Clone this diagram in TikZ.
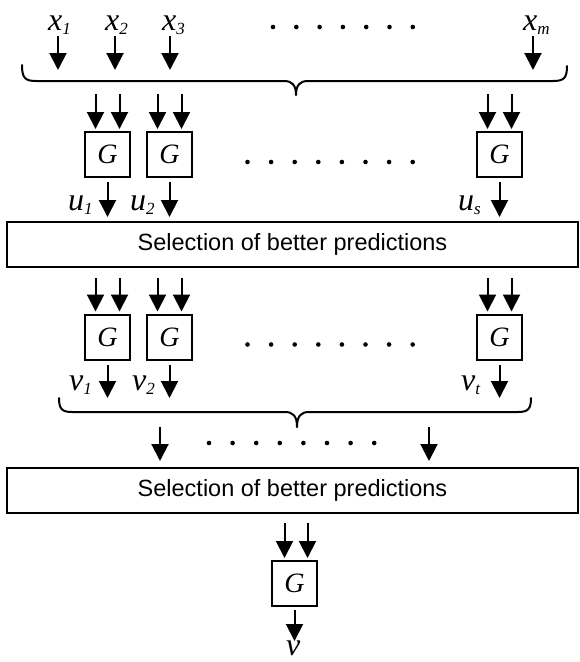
\documentclass[tikz,border=0pt]{standalone}
\usepackage{fontspec}
\setmainfont{Liberation Serif}
\newfontfamily\arialf{Liberation Sans}
\usetikzlibrary{arrows.meta,calc}
\newcommand\mylab[2]{{\fontsize{32}{32}\selectfont\itshape #1}{\fontsize{17}{17}\selectfont\itshape\raisebox{-4pt}{#2}}}
\begin{document}
\begin{tikzpicture}[x=1pt,y=-1pt,
  arr/.style={line width=2pt,-{Triangle[length=17pt,width=17pt]}},
  gbox/.style={draw,line width=2pt,minimum width=45pt,minimum height=45pt,inner sep=0pt,font=\fontsize{28}{28}\selectfont\itshape},
  selbox/.style={draw,line width=2pt,minimum width=571pt,minimum height=45pt,inner sep=0pt,font=\arialf\fontsize{23.5}{23.5}\selectfont},
  lab/.style={anchor=base west,inner sep=0pt},
  bracepath/.style={line width=2pt,line join=round,line cap=round},
  dot/.style={fill=black}]
\useasboundingbox (0,0) rectangle (579,662);

% input labels
\node[lab] (x1) at (48,30) {\mylab{x}{1}};
\node[lab] (x2) at (105,30) {\mylab{x}{2}};
\node[lab] (x3) at (162,30) {\mylab{x}{3}};
\node[lab] (xm) at (523,30) {\mylab{x}{m}};
\foreach \i in {0,...,6} \fill[dot] (273+23.3*\i,27) circle (2.3pt);

\coordinate (a1) at (58,70);
\coordinate (a2) at (115,70);
\coordinate (a3) at (170,70);
\coordinate (am) at (533,70);
\draw[arr] (a1 |- 0,36) -- (a1);
\draw[arr] (a2 |- 0,36) -- (a2);
\draw[arr] (a3 |- 0,36) -- (a3);
\draw[arr] (am |- 0,36) -- (am);

% top brace
\draw[bracepath] (22,65) .. controls (22,78) and (25,81) .. (36,81) -- (284,81)
  .. controls (292,81) and (296,85) .. (296,95)
  .. controls (296,85) and (300,81) .. (308,81) -- (553,81)
  .. controls (564,81) and (567,78) .. (567,66);

% first G row
\node[gbox] (g1) at (107.5,154.5) {G};
\node[gbox] (g2) at (169.5,154.5) {G};
\node[gbox] (g3) at (499.5,154.5) {G};
\foreach \i in {0,...,7} \fill[dot] (247.5+23.6*\i,162) circle (2.3pt);

\foreach \g in {g1,g2,g3}{
  \draw[arr] ([xshift=-12pt,yshift=37pt]\g.north) -- ([xshift=-12pt,yshift=2pt]\g.north);
  \draw[arr] ([xshift=12pt,yshift=37pt]\g.north) -- ([xshift=12pt,yshift=2pt]\g.north);
}

\node[selbox] (s1) at (292.5,244.5) {Selection of better predictions};
\foreach \g in {g1,g2,g3}{
  \draw[arr] ([yshift=-4pt]\g.south) -- (\g.south |- 0,217);
}
\node[lab] (u1) at (68,210) {\mylab{u}{1}};
\node[lab] (u2) at (130,210) {\mylab{u}{2}};
\node[lab] (us) at (458,210) {\mylab{u}{s}};

% second G row
\node[gbox] (h1) at (107.5,337) {G};
\node[gbox] (h2) at (169.5,337) {G};
\node[gbox] (h3) at (499.5,337) {G};
\foreach \i in {0,...,7} \fill[dot] (247.5+23.6*\i,344.5) circle (2.3pt);
\foreach \g in {h1,h2,h3}{
  \draw[arr] ([xshift=-12pt]\g.north |- s1.south) ++(0,10) -- ([xshift=-12pt,yshift=2pt]\g.north);
  \draw[arr] ([xshift=12pt]\g.north |- s1.south) ++(0,10) -- ([xshift=12pt,yshift=2pt]\g.north);
  \draw[arr] ([yshift=-4pt]\g.south) -- (\g.south |- 0,398);
}
\node[lab] (v1) at (69,390) {\mylab{v}{1}};
\node[lab] (v2) at (132,390) {\mylab{v}{2}};
\node[lab] (vt) at (461,390) {\mylab{v}{t}};

% lower brace
\draw[bracepath] (59,398) .. controls (59,409) and (62,412) .. (72,412) -- (285,412)
  .. controls (293,412) and (297,416) .. (297,427)
  .. controls (297,416) and (301,412) .. (309,412) -- (518,412)
  .. controls (528,412) and (531,409) .. (531,398);

\node[selbox] (s2) at (292.5,490.5) {Selection of better predictions};
\coordinate (b1) at (160,427);
\coordinate (b2) at (429,427);
\draw[arr] (b1) -- (b1 |- 0,461);
\draw[arr] (b2) -- (b2 |- 0,461);
\foreach \i in {0,...,7} \fill[dot] (209+23.6*\i,443) circle (2.3pt);

% final G
\node[gbox] (gf) at (294.5,583.5) {G};
\draw[arr] ([xshift=-10pt]gf.north |- s2.south) ++(0,9) -- ([xshift=-10pt,yshift=2pt]gf.north);
\draw[arr] ([xshift=13pt]gf.north |- s2.south) ++(0,9) -- ([xshift=13pt,yshift=2pt]gf.north);
\node[lab] (v) at (286,655) {\fontsize{32}{32}\selectfont\itshape v};
\draw[arr] ([yshift=-3pt]gf.south) -- (gf.south |- 0,641);
\end{tikzpicture}
\end{document}
